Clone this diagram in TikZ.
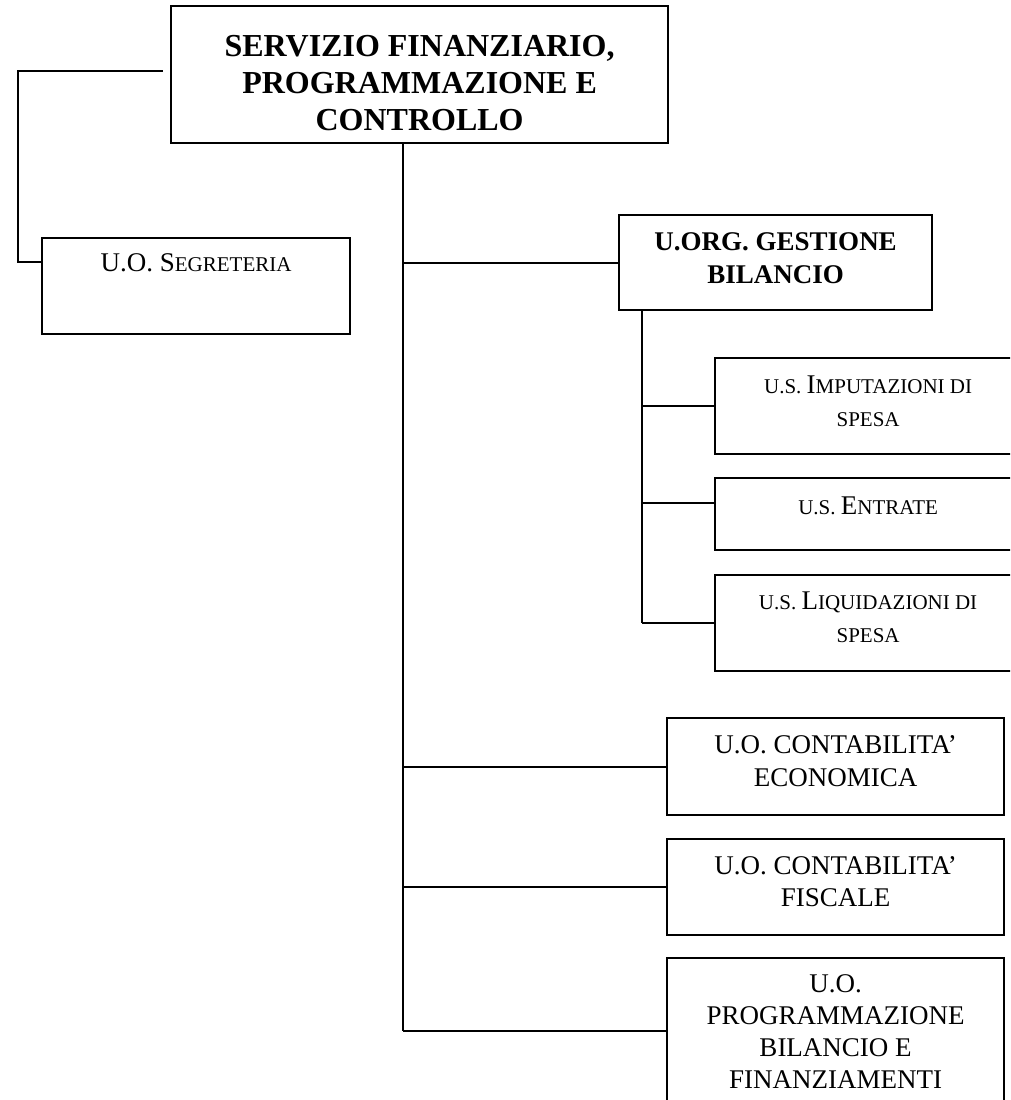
\documentclass[tikz,border=0pt]{standalone}
\usepackage{fontspec}
\setmainfont{Liberation Serif}

\newcommand{\ubox}[4]{\parbox[c][#2pt][t]{#1pt}{\centering\vspace{#3pt}#4\par}}
\newcommand{\smc}[1]{{\fontsize{21}{33}\selectfont #1}}

\tikzset{
  unit/.style={draw, line width=2.2pt, inner sep=0pt, anchor=north west},
  link/.style={line width=2.2pt},
}

\begin{document}
\begin{tikzpicture}[x=1pt, y=-1pt]

	\clip (0,0) rectangle (1010,1100);

	% Servizio
	\node[unit] (serv) at (170,5) {\ubox{497}{137}{29}{\fontsize{32}{37}\selectfont\bfseries SERVIZIO FINANZIARIO,\\ PROGRAMMAZIONE E\\ CONTROLLO}};

	\node[unit] (segr) at (41,237) {\ubox{308}{96}{16}{\fontsize{27}{33}\selectfont U.O. S\smc{EGRETERIA}}};

	% Unita' organizzative
	\node[unit] (gest) at (618,214) {\ubox{313}{95}{18}{\fontsize{27}{32.5}\selectfont\bfseries U.ORG. GESTIONE\\ BILANCIO}};

	\node[unit] (impu) at (714,357) {\ubox{306}{96}{18}{\fontsize{27}{33}\selectfont \smc{U.S. }I\smc{MPUTAZIONI DI}\\ \smc{SPESA}}};
	\node[unit] (entr) at (714,477) {\ubox{306}{72}{19}{\fontsize{27}{33}\selectfont \smc{U.S. }E\smc{NTRATE}}};
	\node[unit] (liqu) at (714,574) {\ubox{306}{96}{17}{\fontsize{27}{33}\selectfont \smc{U.S. }L\smc{IQUIDAZIONI DI}\\ \smc{SPESA}}};

	\node[unit] (econ) at (666,717) {\ubox{337}{97}{17}{\fontsize{27}{33.5}\selectfont U.O. CONTABILITA’\\ ECONOMICA}};
	\node[unit] (fisc) at (666,838) {\ubox{337}{96}{17}{\fontsize{27}{32.5}\selectfont U.O. CONTABILITA’\\ FISCALE}};
	\node[unit] (prog) at (666,957) {\ubox{337}{145}{17}{\fontsize{27}{32}\selectfont U.O.\\ PROGRAMMAZIONE\\ BILANCIO E\\ FINANZIAMENTI}};

	% Collegamenti
	\draw[link] ([xshift=-7.5pt,yshift=4pt]serv.west) -| (17.7,261.7) -- ([yshift=-24.7pt]segr.north west);

	\coordinate (trunk) at ([xshift=-16.5pt]serv.south);
	\draw[link] (trunk) -- (trunk |- prog.west);
	\foreach \n in {gest,econ,fisc,prog}
		\draw[link] (trunk |- \n.west) -- (\n.west);

	\coordinate (sub) at ([xshift=24pt]gest.south west);
	\coordinate (entrin) at ([yshift=11pt]entr.west);
	\draw[link] (sub) -- (sub |- liqu.west);
	\foreach \n in {impu,entrin,liqu}
		\draw[link] (sub |- \n) -- (\n);

\end{tikzpicture}
\end{document}
